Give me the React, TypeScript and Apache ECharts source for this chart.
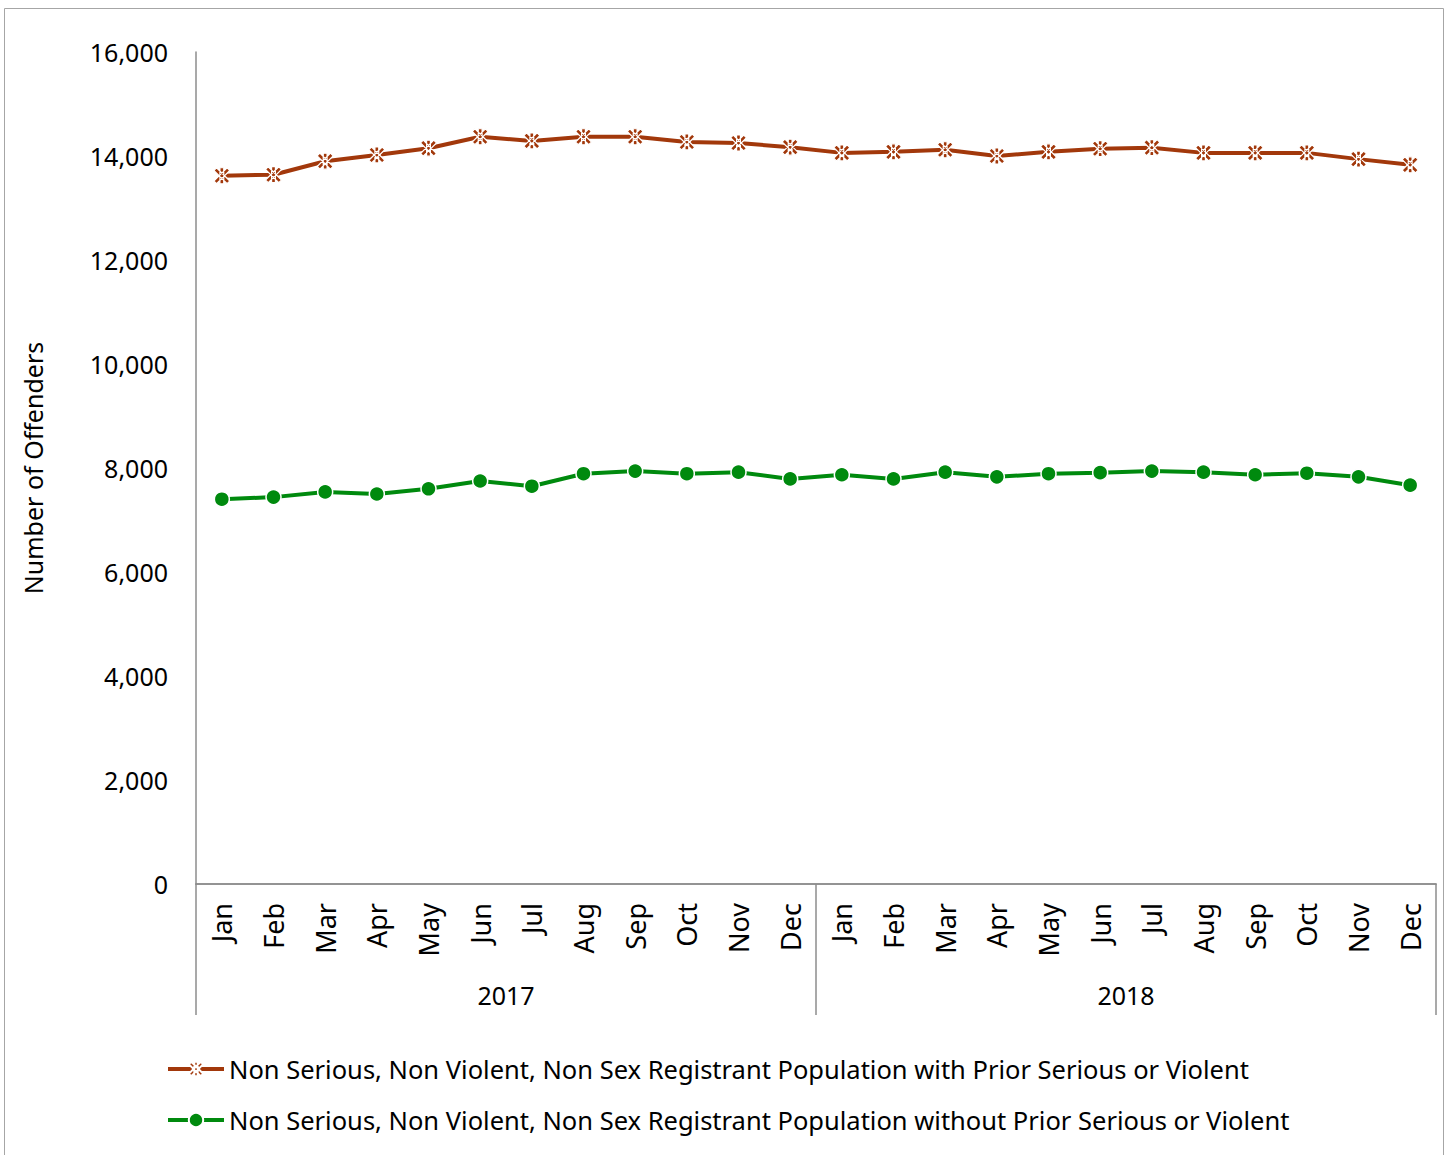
import React, { useEffect, useRef } from "react";
import * as echarts from "echarts";

const monthNames = ["Jan", "Feb", "Mar", "Apr", "May", "Jun", "Jul", "Aug", "Sep", "Oct", "Nov", "Dec"];
const years = ["2017", "2018"];
const categories = [...monthNames, ...monthNames];

const seriesWithPriorName =
  "Non Serious, Non Violent, Non Sex Registrant Population with Prior Serious or Violent";
const seriesWithoutPriorName =
  "Non Serious, Non Violent, Non Sex Registrant Population without Prior Serious or Violent";

const withPrior = [
  13620, 13640, 13900, 14020, 14150, 14370, 14290, 14370, 14370, 14270, 14250, 14170,
  14060, 14080, 14120, 14000, 14080, 14140, 14160, 14060, 14060, 14060, 13940, 13830,
];
const withoutPrior = [
  7400, 7440, 7540, 7500, 7600, 7750, 7650, 7890, 7940, 7890, 7920, 7790,
  7870, 7790, 7920, 7830, 7890, 7910, 7940, 7920, 7870, 7900, 7830, 7670,
];

const yTicks = { min: 0, max: 16000, interval: 2000 };

const RED = "#A2380B";
const GREEN = "#008A0E";
const AXIS = "#8c8c8c";
const FONT = "'Noto Sans', 'Open Sans', sans-serif";

const starPath =
  "path://M38 0L62 0L62 100L38 100Z M17 0L100 83L83 100L0 17Z M83 0L100 17L17 100L0 83Z";

export default function App() {
  const ref = useRef<HTMLDivElement>(null);

  useEffect(() => {
    if (!ref.current) return;
    const chart = echarts.init(ref.current, null, { renderer: "svg" });
    chart.setOption({
      animation: false,
      backgroundColor: "#ffffff",
      textStyle: { fontFamily: FONT },
      graphic: [
        {
          type: "rect",
          shape: { x: 4.5, y: 8.5, width: 1439, height: 1170 },
          style: { fill: "none", stroke: "#a6a6a6", lineWidth: 1 },
          silent: true,
        },
      ],
      grid: { left: 196, top: 52, width: 1240, height: 832, containLabel: false },
      legend: {
        orient: "vertical",
        left: 166,
        top: 1056,
        padding: 0,
        itemWidth: 56,
        itemHeight: 18,
        itemGap: 25,
        lineStyle: { width: 4 },
        textStyle: { fontSize: 25.5, color: "#000", fontFamily: FONT },
        data: [seriesWithPriorName, seriesWithoutPriorName],
      },
      xAxis: [
        {
          type: "category",
          data: categories,
          position: "bottom",
          boundaryGap: true,
          axisLine: { show: true, lineStyle: { color: AXIS, width: 1.5 } },
          axisTick: { show: false },
          axisLabel: {
            rotate: 90,
            margin: 19,
            interval: 0,
            fontSize: 27,
            color: "#000",
            fontFamily: FONT,
          },
          splitLine: { show: false },
        },
        {
          type: "category",
          data: years,
          position: "bottom",
          boundaryGap: true,
          axisLine: { show: true, lineStyle: { color: AXIS, width: 1.5 } },
          axisTick: {
            show: true,
            interval: 0,
            length: 131,
            inside: false,
            lineStyle: { color: AXIS, width: 1.5 },
          },
          axisLabel: { margin: 98, fontSize: 25, color: "#000", fontFamily: FONT },
          splitLine: { show: false },
        },
      ],
      yAxis: {
        type: "value",
        min: yTicks.min,
        max: yTicks.max,
        interval: yTicks.interval,
        name: "Number of Offenders",
        nameLocation: "middle",
        nameRotate: 90,
        nameGap: 151,
        nameTextStyle: { fontSize: 25, color: "#000", fontFamily: FONT },
        axisLine: { show: true, lineStyle: { color: AXIS, width: 1.5 } },
        axisTick: { show: false },
        splitLine: { show: false },
        axisLabel: {
          margin: 28,
          fontSize: 25,
          color: "#000",
          fontFamily: FONT,
          formatter: (v: number) => v.toLocaleString("en-US"),
        },
      },
      series: [
        {
          name: seriesWithPriorName,
          type: "line",
          xAxisIndex: 0,
          data: withPrior,
          symbol: starPath,
          symbolSize: 16,
          showAllSymbol: true,
          lineStyle: { color: RED, width: 4 },
          itemStyle: { color: RED, borderColor: "#ffffff", borderWidth: 1.2 },
        },
        {
          name: seriesWithoutPriorName,
          type: "line",
          xAxisIndex: 0,
          data: withoutPrior,
          symbol: "circle",
          symbolSize: 15,
          showAllSymbol: true,
          lineStyle: { color: GREEN, width: 4 },
          itemStyle: { color: GREEN, borderColor: "#ffffff", borderWidth: 1.5 },
        },
      ],
    });
    return () => chart.dispose();
  }, []);

  return (
    <div
      ref={ref}
      style={{ position: "absolute", left: 0, top: 0, width: 1447, height: 1155 }}
    />
  );
}
